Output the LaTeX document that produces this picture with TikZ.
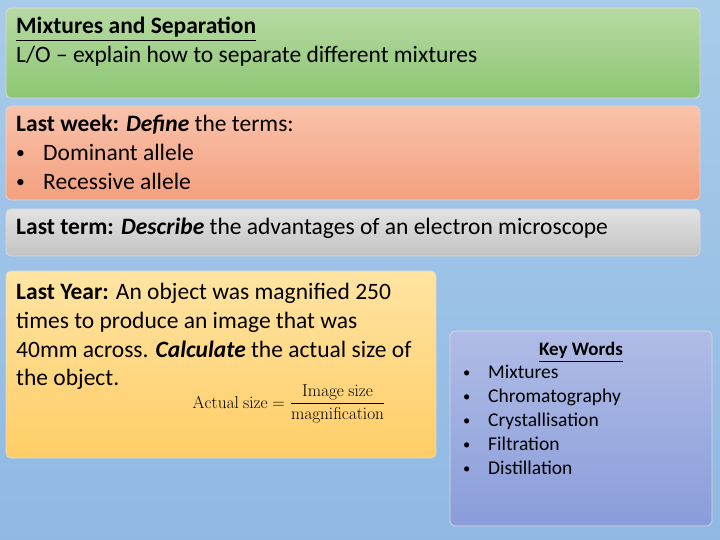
\documentclass[tikz,border=0pt]{standalone}
\usepackage{amsmath}
\usepackage[no-math]{fontspec}
\setmainfont{Carlito}
\begin{document}
\begin{tikzpicture}[x=1pt,y=-1pt,
  slidebox/.style={rounded corners=5pt,draw=white!70!gray,line width=0.8pt},
  txt/.style={anchor=north west,inner sep=0pt,align=left,font=\fontsize{23.5}{28.8}\selectfont}]
\newcommand{\bul}[1]{\makebox[#1][l]{\raisebox{0.08em}{\scalebox{0.75}{\textbullet}}}}
\definecolor{bgA}{HTML}{A9CBEA}\definecolor{bgB}{HTML}{8FB9E3}
\shade[top color=bgA,bottom color=bgB] (0,0) rectangle (720,540);
\useasboundingbox (0,0) rectangle (720,540);
\definecolor{gA}{HTML}{B7DAA3}\definecolor{gB}{HTML}{8CC673}
\definecolor{sA}{HTML}{F9C2AB}\definecolor{sB}{HTML}{F4A07E}
\definecolor{hA}{HTML}{E2E2E2}\definecolor{hB}{HTML}{C3C3C3}
\definecolor{yA}{HTML}{FFE4A3}\definecolor{yB}{HTML}{FFCD66}
\definecolor{pA}{HTML}{B0BCE6}\definecolor{pB}{HTML}{8A9DDA}
\shade[slidebox,top color=gA,bottom color=gB] (6,8) rectangle (700,98);
\shade[slidebox,top color=sA,bottom color=sB] (6,106) rectangle (700,200);
\shade[slidebox,top color=hA,bottom color=hB] (6,209) rectangle (700,256);
\shade[slidebox,top color=yA,bottom color=yB] (6,271) rectangle (436,458);
\shade[slidebox,top color=pA,bottom color=pB] (450,331) rectangle (712,526);
\node[txt] (t1) at (16,17) {\textbf{\underline{Mixtures and Separation}}\\L/O – explain how to separate different mixtures};
\node[txt] (t2) at (16,115) {\textbf{Last week: \textit{Define}} the terms:\\
\bul{27pt}Dominant allele\\\bul{27pt}Recessive allele};
\node[txt] (t3) at (16,218) {\textbf{Last term: \textit{Describe}} the advantages of an electron microscope};
\node[txt] (t4) at (16,283) {\textbf{Last Year:} An object was magnified 250\\times to produce an image that was\\40mm across. \textbf{\textit{Calculate}} the actual size of\\the object.};
\node[anchor=center,inner sep=0pt,font=\fontsize{19}{21}\selectfont] (f) at (289,404) {$\mathrm{Actual\ size}=\dfrac{\mathrm{Image\ size}}{\mathrm{magnification}}$};
\node[anchor=north,inner sep=0pt,font=\fontsize{19}{20}\selectfont] (kw) at (581,342) {\textbf{\underline{Key Words}}};
\node[anchor=north west,inner sep=0pt,align=left,font=\fontsize{19.5}{24}\selectfont] (kl) at (463,365)
{\bul{25pt}Mixtures\\\bul{25pt}Chromatography\\\bul{25pt}Crystallisation\\\bul{25pt}Filtration\\\bul{25pt}Distillation};
\end{tikzpicture}
\end{document}
